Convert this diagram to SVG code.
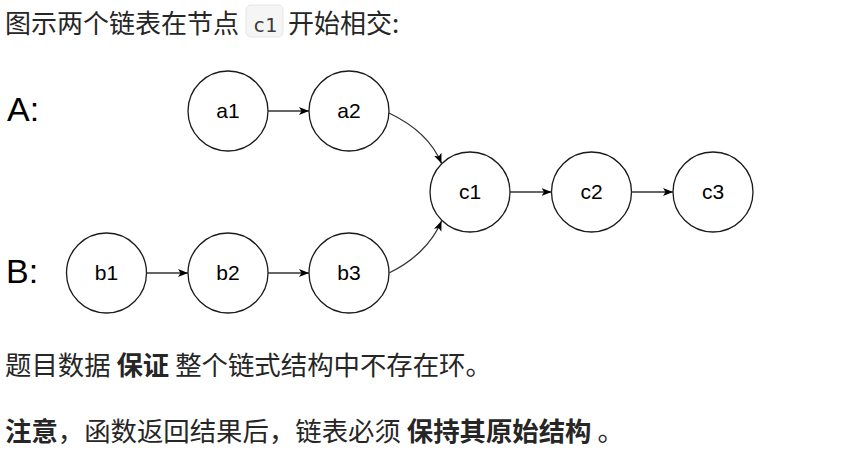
<svg xmlns="http://www.w3.org/2000/svg" width="860" height="451" viewBox="0 0 860 451">
<style>
.cjk{font-family:"Noto Sans CJK SC","Noto Sans",sans-serif;font-size:26.4px;fill:#262626}
.t{font-size:26px}
.b{font-weight:bold}
.code{font-family:"DejaVu Sans Mono","Liberation Mono",monospace;font-size:20px;fill:#3c3c3c}
.node circle{fill:#fff;stroke:#1a1a1a;stroke-width:1.3}
.node text{font-family:"Liberation Sans",Arial,sans-serif;font-size:21px;fill:#000;text-anchor:middle}
.lab{font-family:"Liberation Sans",Arial,sans-serif;font-size:34px;fill:#000}
#edges path{fill:none;stroke:#333;stroke-width:1.3;marker-end:url(#ah)}
</style>
<defs>
<marker id="ah" viewBox="0 0 10 10" refX="10" refY="5" markerWidth="10" markerHeight="10" markerUnits="userSpaceOnUse" orient="auto">
<path d="M0,1 L10,5 L0,9 L2.5,5 z" fill="#000"/>
</marker>
</defs>
<rect width="860" height="451" fill="#fff"/>
<text class="cjk t" x="5" y="33">图示两个链表在节点</text>
<rect x="246" y="5" width="37" height="32" rx="5" fill="#f5f5f5" stroke="#e6e6e6" stroke-width="1"/>
<text class="code" x="253" y="32">c1</text>
<text class="cjk t" x="288" y="33">开始相交:</text>

<text class="lab" x="7" y="121">A:</text>
<text class="lab" x="6" y="283">B:</text>

<g id="a1" class="node"><circle cx="228" cy="111" r="40"/><text x="228" y="118">a1</text></g>
<g id="a2" class="node"><circle cx="349" cy="111" r="40"/><text x="349" y="118">a2</text></g>
<g id="b1" class="node"><circle cx="106.5" cy="273" r="40"/><text x="106.5" y="280">b1</text></g>
<g id="b2" class="node"><circle cx="228" cy="273" r="40"/><text x="228" y="280">b2</text></g>
<g id="b3" class="node"><circle cx="349" cy="273" r="40"/><text x="349" y="280">b3</text></g>
<g id="c1" class="node"><circle cx="470" cy="192" r="40"/><text x="470" y="199">c1</text></g>
<g id="c2" class="node"><circle cx="591.5" cy="192" r="40"/><text x="591.5" y="199">c2</text></g>
<g id="c3" class="node"><circle cx="713" cy="192" r="40"/><text x="713" y="199">c3</text></g>

<g id="edges">
<path d="M268,111 L309,111"/>
<path d="M146.5,273 L188,273"/>
<path d="M268,273 L309,273"/>
<path d="M510,192 L551.5,192"/>
<path d="M631.5,192 L673,192"/>
<path d="M389,113 C412,124 432,140 441.5,163.5"/>
<path d="M389,273 C412,262 432,244 441.5,221"/>
</g>

<text class="cjk" x="5" y="375">题目数据 <tspan class="b">保证</tspan> 整个链式结构中不存在环。</text>
<text class="cjk" x="5" y="441"><tspan class="b">注意</tspan>，函数返回结果后，链表必须 <tspan class="b">保持其原始结构</tspan> 。</text>
</svg>
